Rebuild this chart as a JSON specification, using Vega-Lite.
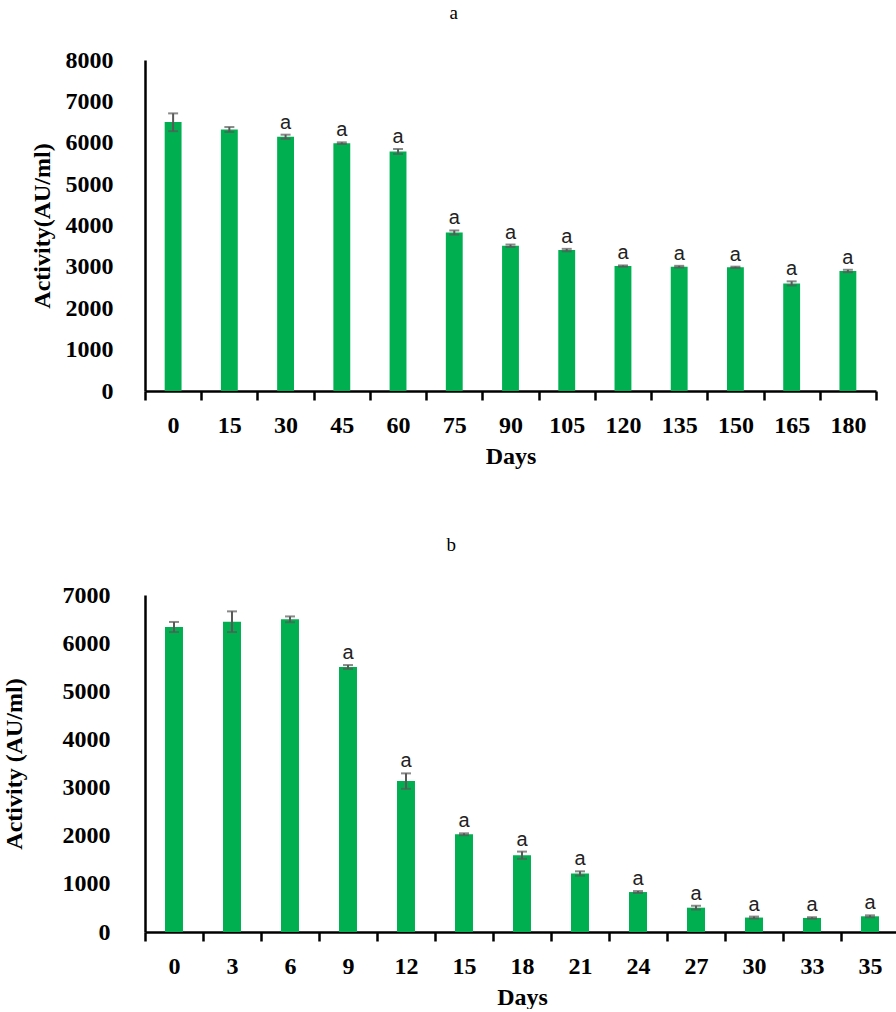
{
  "$schema": "https://vega.github.io/schema/vega-lite/v6.json",
  "background": "white",
  "padding": {"left": 2, "top": 4, "right": 0, "bottom": 0},
  "config": {
    "view": {"stroke": null},
    "axis": {"grid": false, "domainColor": "black", "domainWidth": 2.5, "tickColor": "black", "tickWidth": 2.5,
      "labelFont": "Liberation Serif", "labelFontWeight": "bold", "labelColor": "black", "labelFontSize": 24,
      "titleFont": "Liberation Serif", "titleFontWeight": "bold", "titleColor": "black", "titleFontSize": 24},
    "title": {"font": "Liberation Serif", "fontWeight": "normal", "fontSize": 19, "color": "black", "frame": "bounds", "anchor": "middle"}
  },
  "datasets": {
    "a": [
      {"day": 0, "value": 6500, "lo": 6280, "hi": 6710, "sig": ""},
      {"day": 15, "value": 6320, "lo": 6260, "hi": 6380, "sig": ""},
      {"day": 30, "value": 6145, "lo": 6095, "hi": 6195, "sig": "a"},
      {"day": 45, "value": 5990, "lo": 5970, "hi": 6010, "sig": "a"},
      {"day": 60, "value": 5790, "lo": 5730, "hi": 5850, "sig": "a"},
      {"day": 75, "value": 3830, "lo": 3780, "hi": 3880, "sig": "a"},
      {"day": 90, "value": 3510, "lo": 3480, "hi": 3540, "sig": "a"},
      {"day": 105, "value": 3405, "lo": 3375, "hi": 3435, "sig": "a"},
      {"day": 120, "value": 3020, "lo": 3005, "hi": 3035, "sig": "a"},
      {"day": 135, "value": 3005, "lo": 2985, "hi": 3025, "sig": "a"},
      {"day": 150, "value": 2990, "lo": 2975, "hi": 3005, "sig": "a"},
      {"day": 165, "value": 2600, "lo": 2550, "hi": 2650, "sig": "a"},
      {"day": 180, "value": 2900, "lo": 2870, "hi": 2930, "sig": "a"}
    ],
    "b": [
      {"day": 0, "value": 6335, "lo": 6230, "hi": 6440, "sig": ""},
      {"day": 3, "value": 6445, "lo": 6230, "hi": 6660, "sig": ""},
      {"day": 6, "value": 6495, "lo": 6435, "hi": 6555, "sig": ""},
      {"day": 9, "value": 5505, "lo": 5465, "hi": 5545, "sig": "a"},
      {"day": 12, "value": 3135, "lo": 2975, "hi": 3295, "sig": "a"},
      {"day": 15, "value": 2030, "lo": 2010, "hi": 2050, "sig": "a"},
      {"day": 18, "value": 1595, "lo": 1520, "hi": 1670, "sig": "a"},
      {"day": 21, "value": 1215, "lo": 1170, "hi": 1260, "sig": "a"},
      {"day": 24, "value": 830, "lo": 810, "hi": 850, "sig": "a"},
      {"day": 27, "value": 505, "lo": 465, "hi": 545, "sig": "a"},
      {"day": 30, "value": 300, "lo": 280, "hi": 320, "sig": "a"},
      {"day": 33, "value": 292, "lo": 277, "hi": 307, "sig": "a"},
      {"day": 35, "value": 326, "lo": 306, "hi": 346, "sig": "a"}
    ]
  },
  "vconcat": [
    {
      "title": {"text": "a", "offset": 25},
      "width": 731,
      "height": 331,
      "data": {"name": "a"},
      "encoding": {
        "x": {"field": "day", "type": "ordinal", "scale": {"paddingInner": 0, "paddingOuter": 0},
          "axis": {"title": "Days", "labelAngle": 0, "tickBand": "extent", "tickSize": 9, "labelPadding": 13, "titlePadding": 7}}
      },
      "layer": [
        {"mark": {"type": "bar", "color": "#00b050", "width": {"band": 0.3}},
          "encoding": {"y": {"field": "value", "type": "quantitative", "scale": {"domain": [0, 8000]},
            "axis": {"title": "Activity(AU/ml)", "format": "d", "values": [0,1000,2000,3000,4000,5000,6000,7000,8000], "ticks": false, "labelPadding": 32, "titlePadding": 11}}}},
        {"mark": {"type": "rule", "color": "#595959", "strokeWidth": 2},
          "encoding": {"y": {"field": "lo", "type": "quantitative"}, "y2": {"field": "hi"}}},
        {"mark": {"type": "tick", "color": "#595959", "thickness": 2, "size": 10},
          "encoding": {"y": {"field": "lo", "type": "quantitative"}}},
        {"mark": {"type": "tick", "color": "#595959", "thickness": 2, "size": 10},
          "encoding": {"y": {"field": "hi", "type": "quantitative"}}},
        {"mark": {"type": "text", "font": "Liberation Sans", "fontSize": 20, "color": "#222", "baseline": "bottom", "dy": -2},
          "encoding": {"y": {"field": "hi", "type": "quantitative"}, "text": {"field": "sig"}}}
      ]
    },
    {
      "title": {"text": "b", "offset": 28},
      "width": 754,
      "height": 337,
      "data": {"name": "b"},
      "encoding": {
        "x": {"field": "day", "type": "ordinal", "scale": {"paddingInner": 0, "paddingOuter": 0},
          "axis": {"title": "Days", "labelAngle": 0, "tickBand": "extent", "tickSize": 9, "labelPadding": 13, "titlePadding": 7}}
      },
      "layer": [
        {"mark": {"type": "bar", "color": "#00b050", "width": {"band": 0.31}},
          "encoding": {"y": {"field": "value", "type": "quantitative", "scale": {"domain": [0, 7000]},
            "axis": {"title": "Activity (AU/ml)", "format": "d", "values": [0,1000,2000,3000,4000,5000,6000,7000], "ticks": false, "labelPadding": 35, "titlePadding": 36}}}},
        {"mark": {"type": "rule", "color": "#595959", "strokeWidth": 2},
          "encoding": {"y": {"field": "lo", "type": "quantitative"}, "y2": {"field": "hi"}}},
        {"mark": {"type": "tick", "color": "#595959", "thickness": 2, "size": 10},
          "encoding": {"y": {"field": "lo", "type": "quantitative"}}},
        {"mark": {"type": "tick", "color": "#595959", "thickness": 2, "size": 10},
          "encoding": {"y": {"field": "hi", "type": "quantitative"}}},
        {"mark": {"type": "text", "font": "Liberation Sans", "fontSize": 20, "color": "#222", "baseline": "bottom", "dy": -2},
          "encoding": {"y": {"field": "hi", "type": "quantitative"}, "text": {"field": "sig"}}}
      ]
    }
  ],
  "center": true,
  "align": "none",
  "bounds": "flush",
  "spacing": 204
}
